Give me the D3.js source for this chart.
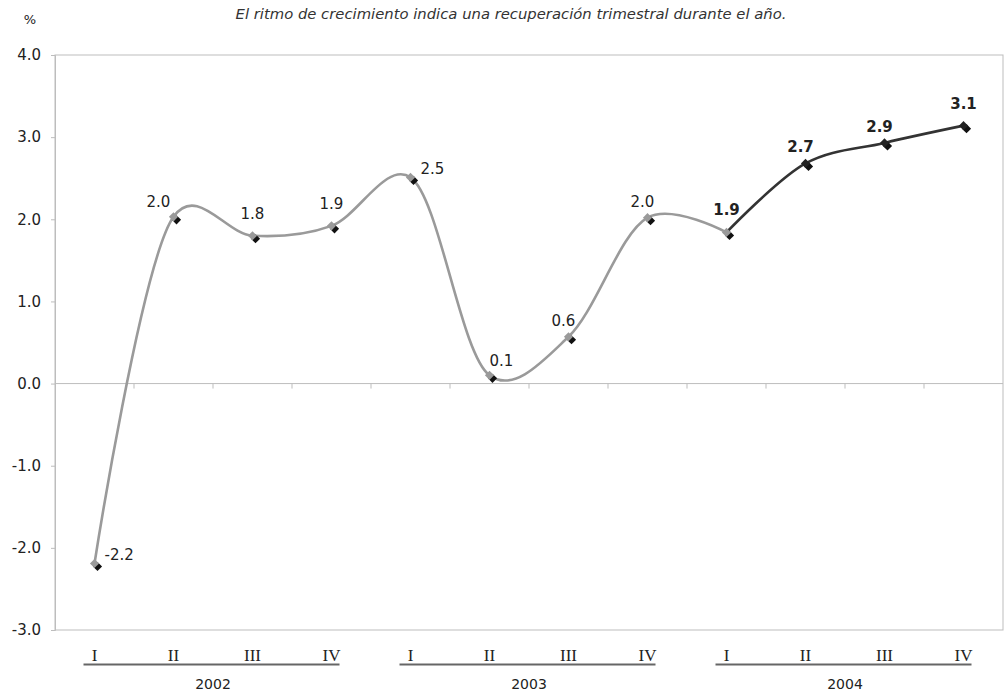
<!DOCTYPE html>
<html><head><meta charset="utf-8">
<script src="https://cdn.jsdelivr.net/npm/d3@7"></script>
<style>body{margin:0;background:#fff}svg{display:block}</style>
</head><body>
<script>
const quarters = ["I","II","III","IV","I","II","III","IV","I","II","III","IV"];
const years = ["2002","2003","2004"];
const values = [-2.19, 2.03, 1.80, 1.92, 2.51, 0.10, 0.57, 2.02, 1.84, 2.68, 2.93, 3.14];
const valueLabels = ["-2.2","2.0","1.8","1.9","2.5","0.1","0.6","2.0","1.9","2.7","2.9","3.1"];
const labelPlacement = ["right","upLeft","above","above","right","upRight","upLeftNear","upLeftNear","above","upLeftNear","upLeftNear","above"];
const yTicks = [4, 3, 2, 1, 0, -1, -2, -3];
const title = "El ritmo de crecimiento indica una recuperación trimestral durante el año.";
const highlightFrom = 8; // 2004 series starts at index 8

const W = 1005, H = 694;
const m = {l:55, r:2, t:55, b:64};
const svg = d3.select("body").append("svg").attr("width", W).attr("height", H);
const font = "'DejaVu Sans', Verdana, sans-serif";

const x = d3.scaleBand().domain(d3.range(values.length)).range([m.l, W - m.r]);
const y = d3.scaleLinear().domain([-3, 4]).range([H - m.b, m.t]);
const cx = i => x(i) + x.bandwidth() / 2;

// plot frame
svg.append("rect").attr("x", m.l).attr("y", m.t).attr("width", W - m.r - m.l).attr("height", y(-3) - m.t)
  .attr("fill", "none").attr("stroke", "#bdbdbd").attr("stroke-width", 1);

// y axis
const yAxis = d3.axisLeft(y).tickValues(yTicks).tickFormat(d => d.toFixed(1)).tickSize(4).tickPadding(10);
const ya = svg.append("g").attr("transform", `translate(${m.l},0)`).call(yAxis);
ya.select(".domain").attr("stroke", "#bdbdbd");
ya.selectAll(".tick line").attr("stroke", "#bdbdbd");
ya.selectAll("text").attr("font-family", font).attr("font-size", 15).attr("fill", "#222");

svg.append("text").attr("x", 30).attr("y", 24).attr("text-anchor", "middle")
  .attr("font-family", font).attr("font-size", 13).attr("fill", "#222").text("%");

// zero line with category ticks
const zeroAxis = d3.axisBottom(x).tickValues(d3.range(1, values.length)).tickSize(5).tickFormat("");
const za = svg.append("g").attr("transform", `translate(0,${y(0)})`).call(zeroAxis);
za.select(".domain").attr("stroke", "#bdbdbd").attr("d", `M${m.l},0H${W - m.r}`);
za.selectAll(".tick").attr("transform", d => `translate(${x(d)},0)`);
za.selectAll(".tick line").attr("stroke", "#bdbdbd");

// title
svg.append("text").attr("x", 511).attr("y", 19).attr("text-anchor", "middle")
  .attr("font-family", font).attr("font-style", "italic").attr("font-size", 14.8).attr("fill", "#333").text(title);

// lines
const line = d3.line().x(d => cx(d.i)).y(d => y(d.v)).curve(d3.curveCatmullRom.alpha(0.2));
const pts = values.map((v, i) => ({i, v}));
svg.append("path").datum(pts.slice(0, highlightFrom + 1)).attr("d", line)
  .attr("fill", "none").attr("stroke", "#9a9a9a").attr("stroke-width", 2.6);
svg.append("path").datum(pts.slice(highlightFrom)).attr("d", line)
  .attr("fill", "none").attr("stroke", "#333").attr("stroke-width", 2.6);

// markers (rotated squares with a dark drop shadow)
const sq = d3.symbol().type(d3.symbolSquare).size(42);
const mk = svg.append("g");
mk.selectAll(".sh").data(pts).join("path")
  .attr("d", sq).attr("transform", d => `translate(${cx(d.i) + 3},${y(d.v) + 3}) rotate(45)`).attr("fill", "#111");
mk.selectAll(".mk").data(pts).join("path")
  .attr("d", sq).attr("transform", d => `translate(${cx(d.i)},${y(d.v)}) rotate(45)`)
  .attr("fill", d => d.i > highlightFrom ? "#222" : "#9a9a9a");

// value labels
const off = {
  right: [10, -3, "start"], above: [0, -17, "middle"], upLeft: [-15, -10, "middle"],
  upRight: [12, -9, "middle"], upLeftNear: [-5, -11, "middle"]
};
svg.append("g").selectAll("text").data(pts).join("text")
  .attr("x", d => cx(d.i) + off[labelPlacement[d.i]][0])
  .attr("y", d => y(d.v) + off[labelPlacement[d.i]][1])
  .attr("text-anchor", d => off[labelPlacement[d.i]][2])
  .attr("font-family", font).attr("font-size", 15)
  .attr("font-weight", d => d.i >= highlightFrom ? "bold" : "normal")
  .attr("fill", "#222").text(d => valueLabels[d.i]);

// quarter labels
svg.append("g").selectAll("text").data(quarters).join("text")
  .attr("x", (d, i) => cx(i)).attr("y", 661).attr("text-anchor", "middle")
  .attr("font-family", "'Liberation Serif', 'Times New Roman', serif").attr("font-size", 17).attr("fill", "#222").text(d => d);

// year underlines and labels
years.forEach((yr, k) => {
  const i0 = k * 4, i1 = k * 4 + 3;
  svg.append("line").attr("x1", cx(i0) - 11).attr("x2", cx(i1) + 8).attr("y1", 664.5).attr("y2", 664.5)
    .attr("stroke", "#666").attr("stroke-width", 2);
  svg.append("text").attr("x", (cx(i0) + cx(i1)) / 2).attr("y", 689).attr("text-anchor", "middle")
    .attr("font-family", font).attr("font-size", 14).attr("fill", "#222").text(yr);
});
</script>
</body></html>
